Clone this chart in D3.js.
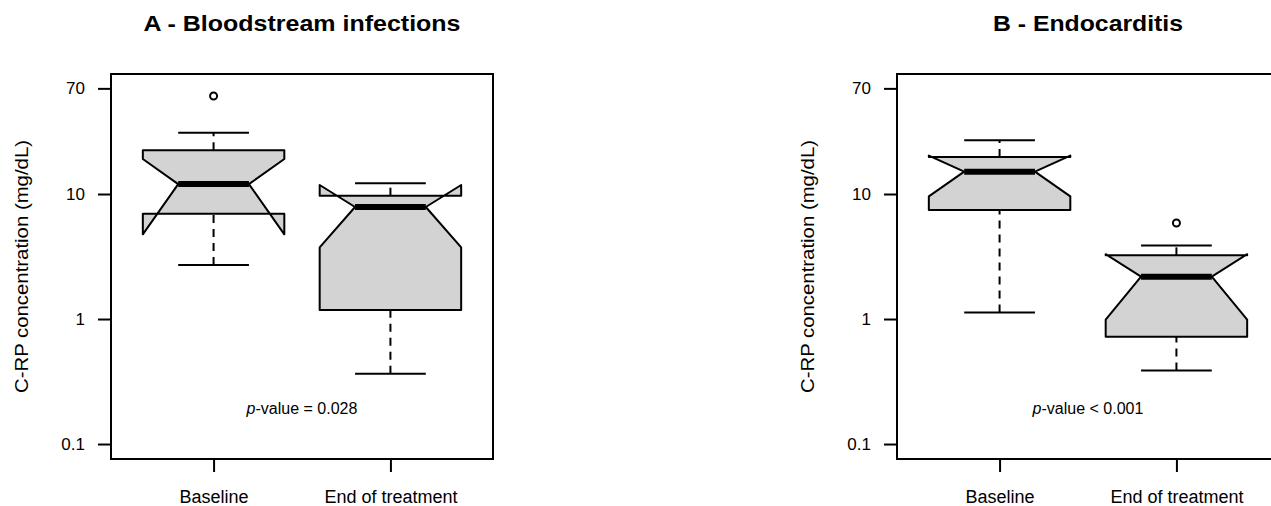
<!DOCTYPE html>
<html>
<head>
<meta charset="utf-8">
<script src="https://cdn.jsdelivr.net/npm/d3@7"></script>
<style>
  body { margin: 0; background: #fff; }
  text { font-family: "Liberation Sans", Arial, sans-serif; fill: #000; }
</style>
</head>
<body>
<div id="chart"></div>
<script>
// data
const groups = ["Baseline", "End of treatment"];
const panelTitles = ["A - Bloodstream infections", "B - Endocarditis"];
const pValueTexts = ["-value = 0.028", "-value < 0.001"];
const yTicks = [0.1, 1, 10, 70];

// [lower whisker, Q1, median, Q3, upper whisker]
const bsiStats = [[2.70, 6.96, 12.0, 22.4, 30.9], [0.365, 1.18, 7.87, 9.7, 12.2]];
const bsiNotches = [[4.76, 19.05], [3.74, 11.8]];
const bsiOutliers = [[60.8], []];

const endoStats = [[1.13, 7.45, 15.1, 19.8, 26.9], [0.388, 0.722, 2.18, 3.23, 3.88]];
const endoNotches = [[9.58, 20.3], [0.99, 3.3]];
const endoOutliers = [[], [5.86]];

const width = 1271;
const height = 506;
const panelOffset = 786;
const plot = {left: 111, right: 493, top: 74, bottom: 459};

const svg = d3.select("#chart")
  .append("svg")
  .attr("width", width)
  .attr("height", height);

const y = d3.scaleLog()
  .domain([0.0759, 91.2])
  .range([plot.bottom, plot.top]);

const x = d3.scaleLinear()
  .domain([0.42, 2.58])
  .range([plot.left, plot.right]);

function drawPanel(i, stats, notches, outliers) {
  const g = svg.append("g")
    .attr("transform", `translate(${i * panelOffset}, 0)`);

  // title
  g.append("text")
    .attr("x", (plot.left + plot.right) / 2)
    .attr("y", 31)
    .attr("text-anchor", "middle")
    .style("font-size", "22px")
    .style("font-weight", "bold")
    .attr("textLength", i === 0 ? 317 : 190)
    .attr("lengthAdjust", "spacingAndGlyphs")
    .text(panelTitles[i]);

  // y axis
  const yAxis = g.append("g")
    .attr("transform", `translate(${plot.left}, 0)`)
    .call(d3.axisLeft(y).tickValues(yTicks).tickFormat(d3.format("~g")).tickSize(13).tickPadding(13));
  yAxis.select(".domain").remove();
  yAxis.selectAll("line").attr("stroke-width", 2);
  yAxis.selectAll("text").style("font-size", "17px").style("font-family", "Liberation Sans, Arial, sans-serif");

  // x axis
  const xAxis = g.append("g")
    .attr("transform", `translate(0, ${plot.bottom})`)
    .call(d3.axisBottom(x).tickValues([1, 2]).tickFormat((d) => groups[d - 1]).tickSize(13).tickPadding(18));
  xAxis.select(".domain").remove();
  xAxis.selectAll("line").attr("stroke-width", 2);
  xAxis.selectAll("text").style("font-size", "18px").style("font-family", "Liberation Sans, Arial, sans-serif");

  // y label
  g.append("text")
    .attr("transform", `translate(28, ${(plot.top + plot.bottom) / 2}) rotate(-90)`)
    .attr("text-anchor", "middle")
    .style("font-size", "18px")
    .attr("textLength", 253)
    .attr("lengthAdjust", "spacingAndGlyphs")
    .text("C-RP concentration (mg/dL)");

  const boxes = g.selectAll(".box")
    .data(stats)
    .enter()
    .append("g")
    .attr("class", "box");

  // whiskers
  boxes.append("line")
    .attr("x1", (d, k) => x(k + 1)).attr("x2", (d, k) => x(k + 1))
    .attr("y1", (d) => y(d[0])).attr("y2", (d) => y(d[1]))
    .attr("stroke", "black").attr("stroke-width", 2).attr("stroke-dasharray", "8,6");
  boxes.append("line")
    .attr("x1", (d, k) => x(k + 1)).attr("x2", (d, k) => x(k + 1))
    .attr("y1", (d) => y(d[3])).attr("y2", (d) => y(d[4]))
    .attr("stroke", "black").attr("stroke-width", 2).attr("stroke-dasharray", "8,6");

  // staples
  [0, 4].forEach((s) => {
    boxes.append("line")
      .attr("x1", (d, k) => x(k + 1 - 0.2)).attr("x2", (d, k) => x(k + 1 + 0.2))
      .attr("y1", (d) => y(d[s])).attr("y2", (d) => y(d[s]))
      .attr("stroke", "black").attr("stroke-width", 2);
  });

  // notched box, drawn the way R's bxp does it
  boxes.append("path")
    .attr("d", (d, k) => {
      const c = k + 1;
      const nl = notches[k][0], nu = notches[k][1];
      const pts = [
        [c - 0.4, d[1]], [c - 0.4, nl], [c - 0.2, d[2]], [c - 0.4, nu], [c - 0.4, d[3]],
        [c + 0.4, d[3]], [c + 0.4, nu], [c + 0.2, d[2]], [c + 0.4, nl], [c + 0.4, d[1]]
      ];
      return d3.line().x((p) => x(p[0])).y((p) => y(p[1]))(pts) + "Z";
    })
    .attr("fill", "#d3d3d3")
    .attr("stroke", "black")
    .attr("stroke-width", 2)
    .attr("stroke-linejoin", "round");

  // median
  boxes.append("line")
    .attr("x1", (d, k) => x(k + 1 - 0.2)).attr("x2", (d, k) => x(k + 1 + 0.2))
    .attr("y1", (d) => y(d[2])).attr("y2", (d) => y(d[2]))
    .attr("stroke", "black").attr("stroke-width", 6);

  // outliers
  outliers.forEach((vals, k) => {
    g.selectAll(null)
      .data(vals)
      .enter()
      .append("circle")
      .attr("cx", x(k + 1))
      .attr("cy", (v) => y(v))
      .attr("r", 3.5)
      .attr("fill", "white")
      .attr("stroke", "black")
      .attr("stroke-width", 2);
  });

  // p-value
  const pt = g.append("text")
    .attr("x", (plot.left + plot.right) / 2)
    .attr("y", 414)
    .attr("text-anchor", "middle")
    .style("font-size", "16px");
  pt.append("tspan").style("font-style", "italic").text("p");
  pt.append("tspan").text(pValueTexts[i]);

  // frame
  g.append("rect")
    .attr("x", plot.left)
    .attr("y", plot.top)
    .attr("width", plot.right - plot.left)
    .attr("height", plot.bottom - plot.top)
    .attr("fill", "none")
    .attr("stroke", "black")
    .attr("stroke-width", 2);
}

drawPanel(0, bsiStats, bsiNotches, bsiOutliers);
drawPanel(1, endoStats, endoNotches, endoOutliers);
</script>
</body>
</html>
